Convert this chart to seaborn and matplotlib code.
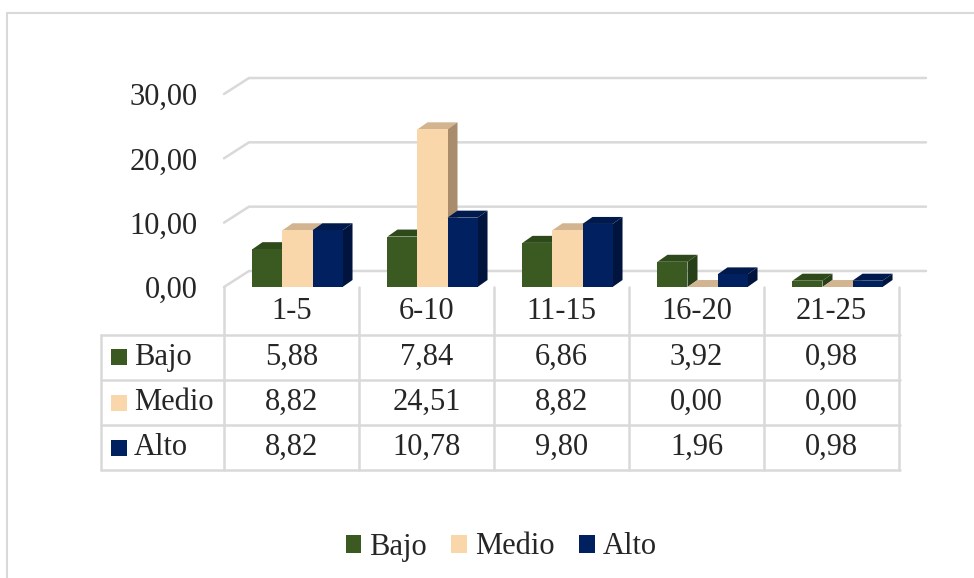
import matplotlib
matplotlib.use("Agg")
import matplotlib.pyplot as plt
import seaborn as sns
import pandas as pd
from matplotlib.patches import Polygon, Rectangle, Patch

# data
categories = ["1-5", "6-10", "11-15", "16-20", "21-25"]
series = ["Bajo", "Medio", "Alto"]
bajo = [5.88, 7.84, 6.86, 3.92, 0.98]
medio = [8.82, 24.51, 8.82, 0.00, 0.00]
alto = [8.82, 10.78, 9.80, 1.96, 0.98]
y_ticks = [0, 10, 20, 30]

# colours: front, top, side faces
front_cols = ["#3a5a22", "#fad7aa", "#002060"]
top_cols = ["#2e4a1a", "#d2b590", "#001a4e"]
side_cols = ["#28401a", "#a88c6c", "#00143e"]
grid_col = "#d9d9d9"

df = pd.DataFrame({
    "Rango": categories * 3,
    "Nivel": [s for s in series for _ in categories],
    "Valor": bajo + medio + alto,
})

sns.set_theme(style="white")
plt.rcParams["font.family"] = ["Liberation Serif", "DejaVu Serif"]
FS = 22

W, H = 974, 578
fig = plt.figure(figsize=(W / 100, H / 100), dpi=100)


def px(x0, y0, x1, y1):
    return [x0 / W, 1 - y1 / H, (x1 - x0) / W, (y1 - y0) / H]


# outer chart border (only top and left edges fall inside the picture)
fig.patches.append(Rectangle((7 / W, -0.05), 2, 1.05 - 13 / H, transform=fig.transFigure,
                             facecolor="none", edgecolor=grid_col, lw=1.5))

ax = fig.add_axes(px(224, 94, 899, 287))
sns.barplot(data=df, x="Rango", y="Valor", hue="Nivel", hue_order=series,
            palette=front_cols, width=0.667, saturation=1, legend=False,
            edgecolor="none", linewidth=0, ax=ax)
ax.set_xlim(-0.5, 4.5)
ax.set_ylim(0, 30)

# 3D depth in data units
ppx = 675 / 5.0       # pixels per category
ppy = 193 / 30.0      # pixels per unit
bdx, bdy = 10 / ppx, 7 / ppy
wdx, wdy = 25 / ppx, 16 / ppy
shift = 6 / ppx

# back wall gridlines with the slanted floor/wall edge
for t in y_ticks:
    ax.plot([-0.5, -0.5 + wdx, 4.5 + 27 / ppx], [t, t + wdy, t + wdy],
            color=grid_col, lw=1.8, clip_on=False, zorder=0.5)

# give the bars top and side faces
bars = []
for si, cont in enumerate(ax.containers):
    for p in cont.patches:
        p.set_x(p.get_x() + shift)
        bars.append((p.get_x(), si, p))
bars.sort(key=lambda b: b[0])
for k, (x, si, p) in enumerate(bars):
    w, h = p.get_width(), p.get_height()
    p.set_zorder(3 + 2 * k)
    p.set_clip_on(False)
    ax.add_patch(Polygon([(x, h), (x + w, h), (x + w + bdx, h + bdy), (x + bdx, h + bdy)],
                         closed=True, facecolor=top_cols[si], edgecolor="none",
                         zorder=2 + 2 * k, clip_on=False))
    ax.add_patch(Polygon([(x + w, 0), (x + w + bdx, bdy), (x + w + bdx, h + bdy), (x + w, h)],
                         closed=True, facecolor=side_cols[si], edgecolor="none",
                         zorder=2 + 2 * k, clip_on=False))

ax.set_yticks(y_ticks)
ax.set_yticklabels([f"{t:.2f}".replace(".", ",") for t in y_ticks], fontsize=FS)
ax.tick_params(axis="y", length=0, pad=19)
ax.set_xticks([])
ax.set_xlabel("")
ax.set_ylabel("")
for s in ax.spines.values():
    s.set_visible(False)
ax.patch.set_alpha(0)

# data table underneath
tab = fig.add_axes(px(101, 287, 900, 470))
tab.set_xlim(101, 900)
tab.set_ylim(470, 287)
tab.axis("off")
col_edges = [224 + 135 * i for i in range(6)]
row_edges = [335, 380, 425, 470]
lk = dict(color=grid_col, lw=1.8, clip_on=False)
for xe in col_edges:
    tab.plot([xe, xe], [287, 470], **lk)
tab.plot([101, 101], [335, 470], **lk)
for ye in row_edges:
    tab.plot([101, 900], [ye, ye], **lk)
for i, c in enumerate(categories):
    tab.text(col_edges[i] + 67.5, 312, c, ha="center", va="center", fontsize=FS)
for r, (name, vals) in enumerate(zip(series, [bajo, medio, alto])):
    yc = (row_edges[r] + row_edges[r + 1]) / 2
    tab.add_patch(Rectangle((111, yc - 8), 16, 16, facecolor=front_cols[r],
                            edgecolor="none", clip_on=False))
    tab.text(134, yc, name, ha="left", va="center", fontsize=FS)
    for i, v in enumerate(vals):
        tab.text(col_edges[i] + 67.5, yc, f"{v:.2f}".replace(".", ","),
                 ha="center", va="center", fontsize=FS)

# legend at the bottom
handles = [Patch(facecolor=c, edgecolor="none", label=s) for c, s in zip(front_cols, series)]
fig.legend(handles=handles, loc="center", bbox_to_anchor=(501 / W, 1 - 547 / H),
           ncol=3, frameon=False, fontsize=FS, handlelength=0.52, handleheight=0.52,
           handletextpad=0.25, columnspacing=0.8, borderpad=0)

fig.savefig("out.png", dpi=100)
